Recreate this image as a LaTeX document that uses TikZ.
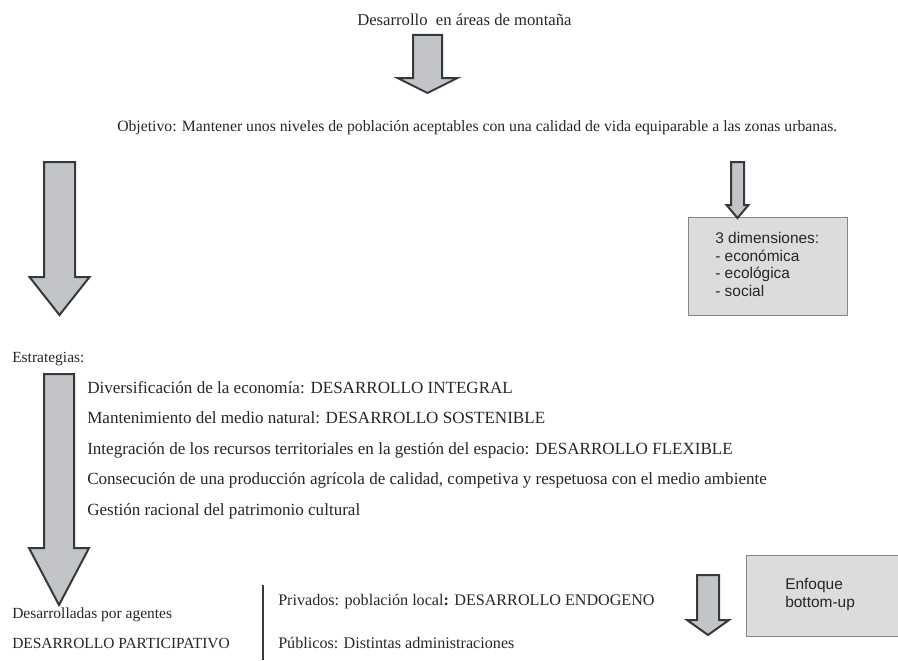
\documentclass[tikz,border=0pt]{standalone}
\usepackage{fontspec}
\setmainfont{Liberation Serif}
\newfontfamily\boxfont{Liberation Sans}
\definecolor{arrowfill}{HTML}{C3C4C8}
\definecolor{arrowline}{HTML}{34393C}
\definecolor{boxfill}{HTML}{DCDCDC}
\definecolor{boxline}{HTML}{858585}
\definecolor{inkgray}{HTML}{262626}
\tikzstyle{txt} = [anchor=base west, inner sep=0pt, text=inkgray, font=\fontsize{11.8}{13}\selectfont]
\tikzstyle{bigtxt} = [txt, font=\fontsize{12.8}{14}\selectfont]
\tikzstyle{boxtxt} = [anchor=base west, inner sep=0pt, text=inkgray, font=\boxfont\fontsize{11.6}{13}\selectfont]
\tikzstyle{greybox} = [draw=boxline, fill=boxfill, line width=0.8pt]
\tikzstyle{blockarrow} = [draw=arrowline, fill=arrowfill, line width=1.5pt, line join=miter]
% block arrow: centre x, top, shaft half width, head half width, head top, tip
\newcommand{\DownArrow}[6]{%
  \draw[blockarrow] ({#1-#3},#2) -- ({#1+#3},#2) -- ({#1+#3},#5) -- ({#1+#4},#5)
    -- (#1,#6) -- ({#1-#4},#5) -- ({#1-#3},#5) -- cycle;}

\begin{document}
\begin{tikzpicture}[x=0.75pt, y=-0.75pt]
\useasboundingbox (0,0) rectangle (898,660);

% Define nodes
\node[txt, font=\fontsize{12.5}{14}\selectfont] (title) at (357,26) {Desarrollo\ \ en áreas de montaña};
\node[txt] (obj) at (117,131) {Objetivo: Mantener unos niveles de población aceptables con una calidad de vida equiparable a las zonas urbanas.};

\node[greybox, anchor=north west, minimum width=119.25pt, minimum height=73.5pt] (dim) at (688,217) {};
\node[boxtxt] (dim1) at (715,243) {3 dimensiones:};
\node[boxtxt] (dim2) at (715,261) {- económica};
\node[boxtxt] (dim3) at (715,278) {- ecológica};
\node[boxtxt] (dim4) at (715,296) {- social};

\node[txt, font=\fontsize{11.6}{13}\selectfont] (estr) at (12,362) {Estrategias:};
\node[bigtxt] (s1) at (87,393)   {Diversificación de la economía: DESARROLLO INTEGRAL};
\node[bigtxt] (s2) at (87,423.5) {Mantenimiento del medio natural: DESARROLLO SOSTENIBLE};
\node[bigtxt] (s3) at (87,454)   {Integración de los recursos territoriales en la gestión del espacio: DESARROLLO FLEXIBLE};
\node[bigtxt] (s4) at (87,484.5) {Consecución de una producción agrícola de calidad, competiva y respetuosa con el medio ambiente};
\node[bigtxt] (s5) at (87,515)   {Gestión racional del patrimonio cultural};

\node[txt, font=\fontsize{11.6}{13}\selectfont] (agentes) at (12,618) {Desarrolladas por agentes};
\node[txt, font=\fontsize{11.6}{13}\selectfont] (partic)  at (12,648) {DESARROLLO PARTICIPATIVO};
\node[txt, font=\fontsize{12.1}{14}\selectfont] (priv) at (278,605) {Privados: población local\textbf{:} DESARROLLO ENDOGENO};
\node[txt, font=\fontsize{12.1}{14}\selectfont] (publ) at (278,648) {Públicos: Distintas administraciones};

\node[greybox, anchor=north west, minimum width=115.5pt, minimum height=60.75pt] (enfoque) at (746,555) {};
\node[boxtxt] (enf1) at (785,589) {Enfoque};
\node[boxtxt] (enf2) at (785,607) {bottom-up};

% Arrows
\DownArrow{427.5}{35}{14.5}{30}{78}{93}
\DownArrow{737.5}{162}{6.5}{11}{205}{218}
\DownArrow{59.5}{162}{15.5}{30}{277}{315}
\DownArrow{59}{374}{15}{30}{548}{605}
\DownArrow{708}{575}{11}{21}{620}{635}

% Bracket
\coordinate (bt) at (263,585);
\coordinate (bb) at (263,660);
\draw[arrowline, line width=1.2pt] (bt) -- (bb);
\end{tikzpicture}
\end{document}
